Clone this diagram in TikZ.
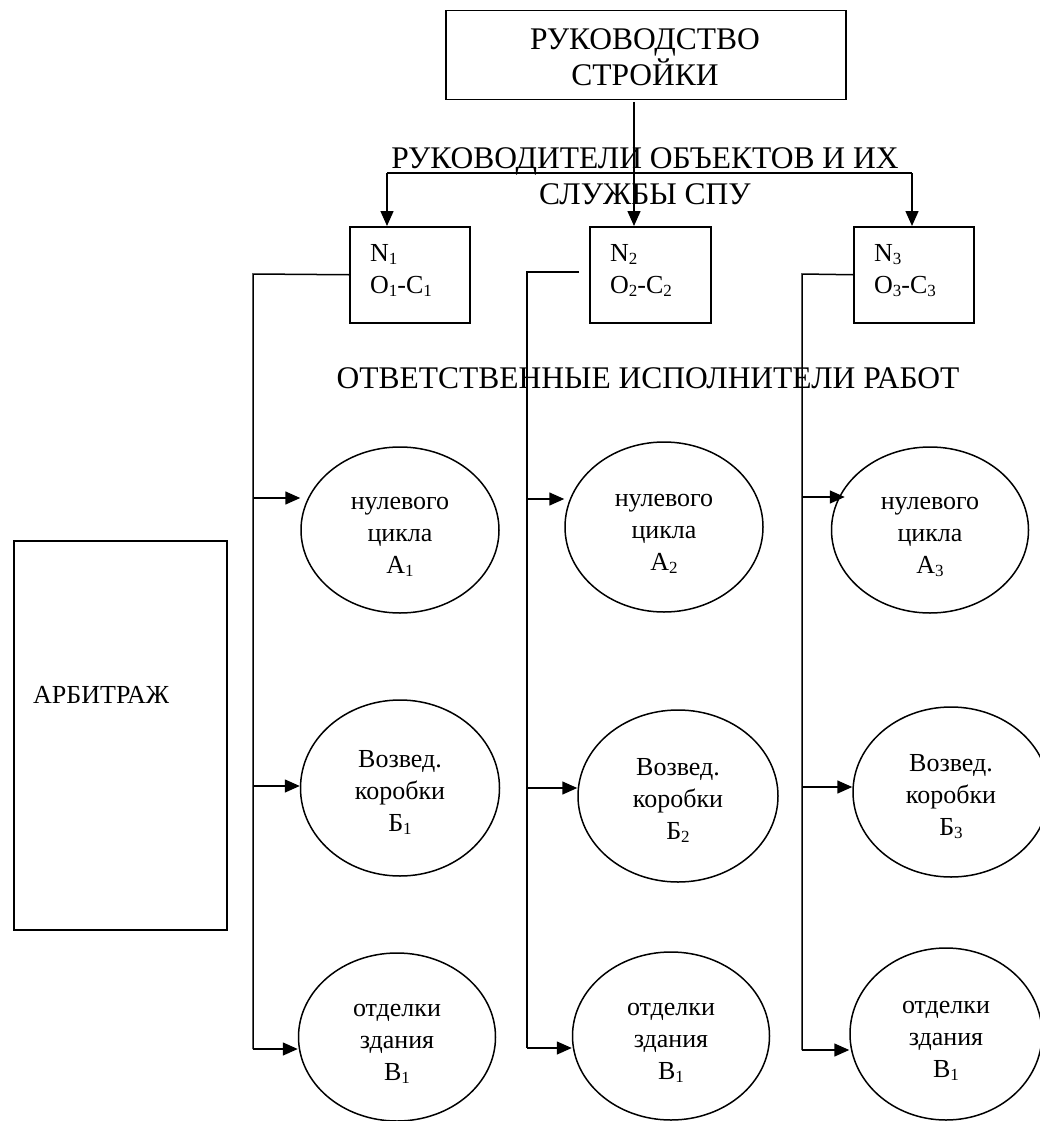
\documentclass[tikz,border=0pt]{standalone}
\usepackage{fontspec}
\setmainfont{Liberation Serif}
\usetikzlibrary{arrows.meta,shapes.geometric,calc}
\newcommand{\sbs}[1]{\raisebox{-3pt}{\fontsize{17}{17}\selectfont #1}}
\newcommand{\etx}[3]{\vphantom{Б}#1\\#2\\#3\vphantom{у}}
\begin{document}
\begin{tikzpicture}[x=1pt,y=-1pt,
  every node/.style={font=\fontsize{26}{32}\selectfont, inner sep=0pt},
  ln/.style={line width=1.5pt},
  arr/.style={ln,-{Triangle[length=15pt,width=13pt]}},
  box/.style={draw,line width=1.5pt,rectangle,anchor=north west},
  ell/.style={draw,line width=1.5pt,ellipse},
  etext/.style={align=center},
  head/.style={font=\fontsize{31.5}{36}\selectfont,align=center}]
\useasboundingbox (0,0) rectangle (1040,1121);

% top box
\node[box,minimum width=400pt,minimum height=89pt] (top) at (445,10) {};
\node[head] (toptext) at (645,57) {РУКОВОДСТВО\\СТРОЙКИ};

% headings
\node[head] (h1) at (645,176) {РУКОВОДИТЕЛИ ОБЪЕКТОВ И ИХ\\СЛУЖБЫ СПУ};
\node[head,anchor=base] (h2) at (648,388) {ОТВЕТСТВЕННЫЕ ИСПОЛНИТЕЛИ РАБОТ};

% N boxes
\node[box,minimum width=120pt,minimum height=96pt] (N1) at (349,226) {};
\node[box,minimum width=121pt,minimum height=96pt] (N2) at (589,226) {};
\node[box,minimum width=120pt,minimum height=96pt] (N3) at (853,226) {};
\node[anchor=north west,align=left] (n1t) at (370,244) {N\sbs{1}\\O\sbs{1}-C\sbs{1}};
\node[anchor=north west,align=left] (n2t) at (610,244) {N\sbs{2}\\O\sbs{2}-C\sbs{2}};
\node[anchor=north west,align=left] (n3t) at (874,244) {N\sbs{3}\\O\sbs{3}-C\sbs{3}};

% arbitrage
\node[box,minimum width=213pt,minimum height=389pt] (arb) at (13,540) {};
\node[anchor=base west] (arbt) at (33,703) {АРБИТРАЖ};

% ellipses
\node[ell,minimum width=198pt,minimum height=166pt] (A1) at (400,530) {};
\node[ell,minimum width=199pt,minimum height=176pt] (B1) at (400,788) {};
\node[ell,minimum width=197pt,minimum height=168pt] (V1) at (397,1037) {};
\node[ell,minimum width=198pt,minimum height=170pt] (A2) at (664,527) {};
\node[ell,minimum width=200pt,minimum height=172pt] (B2) at (678,796) {};
\node[ell,minimum width=197pt,minimum height=168pt] (V2) at (671,1036) {};
\node[ell,minimum width=197pt,minimum height=166pt] (A3) at (930,530) {};
\node[ell,minimum width=196pt,minimum height=170pt] (B3) at (951,792) {};
\node[ell,minimum width=192pt,minimum height=172pt] (V3) at (946,1034) {};

\node[etext] (A1t) at ($(A1)+(0,6)$) {\etx{нулевого}{цикла}{А\sbs{1}}};
\node[etext] (B1t) at ($(B1)+(0,6)$) {\etx{Возвед.}{коробки}{Б\sbs{1}}};
\node[etext] (V1t) at ($(V1)+(0,6)$) {\etx{отделки}{здания}{В\sbs{1}}};
\node[etext] (A2t) at ($(A2)+(0,6)$) {\etx{нулевого}{цикла}{А\sbs{2}}};
\node[etext] (B2t) at ($(B2)+(0,6)$) {\etx{Возвед.}{коробки}{Б\sbs{2}}};
\node[etext] (V2t) at ($(V2)+(0,6)$) {\etx{отделки}{здания}{В\sbs{1}}};
\node[etext] (A3t) at ($(A3)+(0,6)$) {\etx{нулевого}{цикла}{А\sbs{3}}};
\node[etext] (B3t) at ($(B3)+(0,6)$) {\etx{Возвед.}{коробки}{Б\sbs{3}}};
\node[etext] (V3t) at ($(V3)+(0,6)$) {\etx{отделки}{здания}{В\sbs{1}}};

% top connectors
\coordinate (tx) at (634,102);
\draw[arr] (tx) -- (tx |- N2.north);
\coordinate (hl) at (387,173);
\coordinate (hr) at (912,173);
\draw[ln] (hl) -- (hr);
\draw[arr] (hl) -- (hl |- N1.north);
\draw[arr] (hr) -- (hr |- N3.north);

% column 1
\coordinate (c1t) at (253,274);
\coordinate (c1b) at (253,1049);
\draw[ln] (N1.west) -- (c1t) -- (c1b);
\coordinate (c1a) at (253,498);
\coordinate (c1v) at (253,786);
\draw[arr] (c1a) -- (c1a -| A1.west);
\draw[arr] (c1v) -- (c1v -| B1.west);
\draw[arr] (c1b) -- (c1b -| V1.west);

% column 2
\coordinate (c2s) at (579,272);
\coordinate (c2t) at (527,272);
\coordinate (c2b) at (527,1048);
\draw[ln] (c2s) -- (c2t) -- (c2b);
\coordinate (c2a) at (527,499);
\coordinate (c2v) at (527,788);
\draw[arr] (c2a) -- (c2a -| A2.west);
\draw[arr] (c2v) -- (c2v -| B2.west);
\draw[arr] (c2b) -- (c2b -| V2.west);

% column 3
\coordinate (c3t) at (802,274);
\coordinate (c3b) at (802,1050);
\draw[ln] (N3.west) -- (c3t) -- (c3b);
\coordinate (c3a) at (802,497);
\coordinate (c3v) at (802,787);
\draw[arr,shorten >=-14pt] (c3a) -- (c3a -| A3.west);
\draw[arr] (c3v) -- (c3v -| B3.west);
\draw[arr] (c3b) -- (c3b -| V3.west);
\end{tikzpicture}
\end{document}
